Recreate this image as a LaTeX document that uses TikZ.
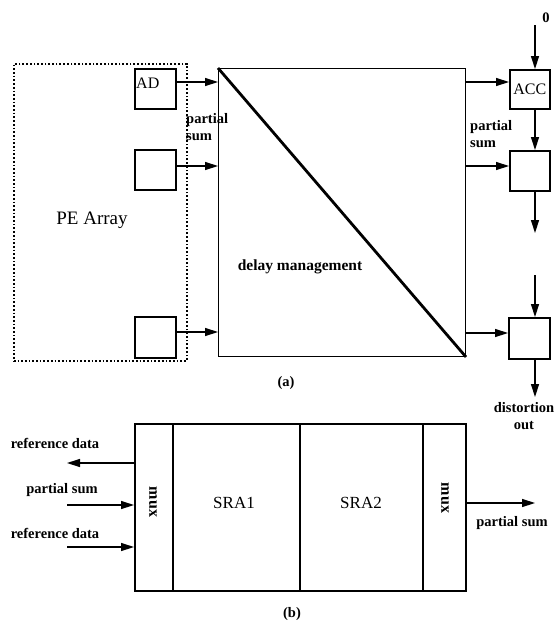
\documentclass[tikz,border=0pt]{standalone}
\usepackage{fontspec}
\setmainfont{Liberation Serif}
\usetikzlibrary{arrows.meta}
\begin{document}
\begin{tikzpicture}[x=1pt,y=-1pt,
  box/.style={draw,line width=1.6pt,inner sep=0pt},
  thinbox/.style={draw,line width=1pt,inner sep=0pt},
  arr/.style={line width=1.4pt,-{Triangle[length=13pt,width=8pt]}},
  lbl/.style={font=\fontsize{14.5}{14.5}\selectfont\bfseries,inner sep=0pt},
  big/.style={font=\fontsize{19}{19}\selectfont,inner sep=0pt},
  mid/.style={font=\fontsize{16}{16}\selectfont,inner sep=0pt}]
\useasboundingbox (0,0) rectangle (556,624);
% (a)
\node[draw,dotted,line width=1.7pt,minimum width=173pt,minimum height=297pt,anchor=north west,inner sep=0pt] (pe) at (13,63) {};
\node[big] (pet) at (92,220) {PE Array};
\node[box,minimum width=41pt,minimum height=40pt,anchor=north west] (ad) at (134,68) {};
\node[mid,anchor=west] at (136,83) {AD};
\node[box,minimum width=41pt,minimum height=40pt,anchor=north west] (p2) at (134,149) {};
\node[box,minimum width=41pt,minimum height=41pt,anchor=north west] (p3) at (134,316) {};
\node[thinbox,minimum width=247pt,minimum height=288pt,anchor=north west] (dm) at (218,68) {};
\draw[line width=2.8pt] (dm.north west) -- (dm.south east);
\node[lbl,font=\fontsize{15.5}{15.5}\selectfont\bfseries] at (300,267) {delay management};
\coordinate (i1) at (218,82);
\coordinate (i2) at (218,166);
\coordinate (i3) at (218,332);
\draw[arr] (ad.east |- i1) -- (i1);
\draw[arr] (p2.east |- i2) -- (i2);
\draw[arr] (p3.east |- i3) -- (i3);
\node[lbl,anchor=west,align=left] at (186,127) {partial\\[3pt]sum};
% right column
\node[box,minimum width=40pt,minimum height=39pt,anchor=north west] (acc) at (509,69) {};
\node[mid] at (acc.center) {ACC};
\node[box,minimum width=40pt,minimum height=40pt,anchor=north west] (q2) at (509,150) {};
\node[box,minimum width=41pt,minimum height=41pt,anchor=north west] (q3) at (508,317) {};
\node[lbl] (zero) at (546,18) {0};
\coordinate (z0) at (535,25);
\draw[arr] (z0) -- (z0 |- acc.north);
\draw[arr] (acc.south -| z0) -- (z0 |- q2.north);
\coordinate (d1) at (535,233);
\coordinate (d2) at (535,275);
\draw[arr] (q2.south -| z0) -- (d1);
\draw[arr] (d2) -- (d2 |- q3.north);
\coordinate (o1) at (535,397);
\draw[arr] (q3.south -| z0) -- (o1);
\coordinate (r1) at (465,82);
\coordinate (r2) at (465,166);
\coordinate (r3) at (465,333);
\draw[arr] (r1) -- (acc.west |- r1);
\draw[arr] (r2) -- (q2.west |- r2);
\draw[arr] (r3) -- (q3.west |- r3);
\node[lbl,anchor=west,align=left] at (470,134) {partial\\[3pt]sum};
\node[lbl,anchor=north,align=center] at (524,402) {distortion\\[3pt]out};
\node[lbl] at (286,383) {(a)};
% (b)
\node[box,minimum width=331pt,minimum height=167pt,anchor=north west] (bb) at (134,423) {};
\draw[line width=1.6pt] (173,423) -- (173,590);
\draw[line width=1.6pt] (300,423) -- (300,590);
\draw[line width=1.6pt] (423,423) -- (423,590);
\node[lbl,font=\fontsize{16}{16}\selectfont\bfseries,rotate=-90] at (153,502) {mux};
\node[lbl,font=\fontsize{16}{16}\selectfont\bfseries,rotate=-90] at (445,498) {mux};
\node[mid,font=\fontsize{17}{17}\selectfont] at (234,503) {SRA1};
\node[mid,font=\fontsize{17}{17}\selectfont] at (361,503) {SRA2};
\coordinate (l1) at (67,463);
\coordinate (l2) at (67,505);
\coordinate (l3) at (67,547);
\draw[arr] (bb.west |- l1) -- (l1);
\draw[arr] (l2) -- (bb.west |- l2);
\draw[arr] (l3) -- (bb.west |- l3);
\node[lbl] at (55,443) {reference data};
\node[lbl] at (62,490) {partial sum};
\node[lbl] at (55,533) {reference data};
\coordinate (ro) at (535,503);
\draw[arr] (bb.east |- ro) -- (ro);
\node[lbl] at (512,523) {partial sum};
\node[lbl] at (292,614) {(b)};
\end{tikzpicture}
\end{document}
